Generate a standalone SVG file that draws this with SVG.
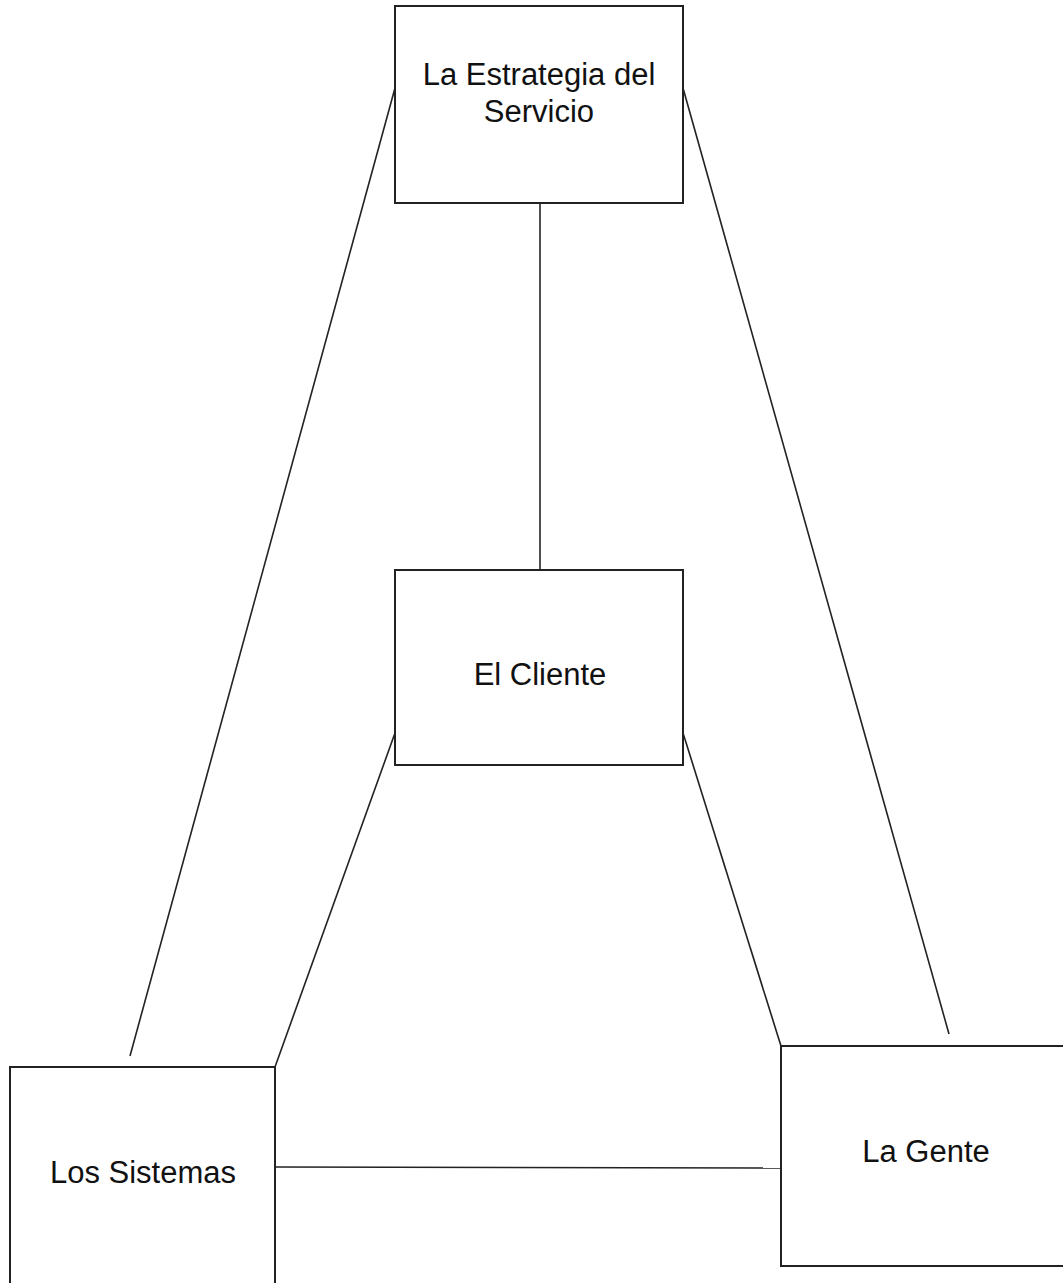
<svg xmlns="http://www.w3.org/2000/svg" width="1063" height="1283" viewBox="0 0 1063 1283">
<style>
.box{fill:#fff;stroke:#222;stroke-width:2}
.lbl{font-family:"Liberation Sans",Arial,sans-serif;font-size:31px;fill:#111;text-anchor:middle}
.con line{stroke:#222;stroke-width:1.6}
</style>
<rect width="1063" height="1283" fill="#fff"/>
<g id="connectors" class="con">
<line x1="540" y1="203" x2="540" y2="570"/>
<line x1="395" y1="88" x2="130" y2="1056"/>
<line x1="683" y1="88" x2="949" y2="1034"/>
<line x1="395" y1="733" x2="275" y2="1067"/>
<line x1="683" y1="733" x2="781" y2="1046"/>
<line x1="275" y1="1167" x2="781" y2="1168"/>
</g>
<g id="estrategia">
<rect class="box" x="395" y="6" width="288" height="197"/>
<text class="lbl" x="539" y="85">La Estrategia del</text>
<text class="lbl" x="539" y="122">Servicio</text>
</g>
<g id="cliente">
<rect class="box" x="395" y="570" width="288" height="195"/>
<text class="lbl" x="540" y="685">El Cliente</text>
</g>
<g id="sistemas">
<rect class="box" x="10" y="1067" width="265" height="240"/>
<text class="lbl" x="143" y="1183">Los Sistemas</text>
</g>
<g id="gente">
<rect class="box" x="781" y="1046" width="300" height="220"/>
<text class="lbl" x="926" y="1162">La Gente</text>
</g>
</svg>
